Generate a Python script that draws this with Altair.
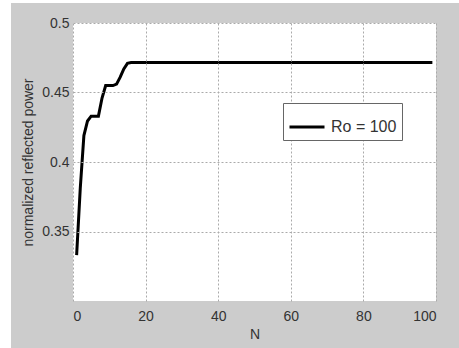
import altair as alt
import pandas as pd

n_values = list(range(1, 100))
head = [0.333, 0.381, 0.419, 0.4295, 0.433, 0.433, 0.433, 0.446, 0.455, 0.455,
        0.455, 0.456, 0.461, 0.467, 0.471]
power = head + [0.4715] * (len(n_values) - len(head))
series = ["Ro = 100"] * len(n_values)

x_ticks = [0, 20, 40, 60, 80, 100]
y_ticks = [0.35, 0.4, 0.45, 0.5]

df = pd.DataFrame({"N": n_values, "power": power, "series": series})

bg = alt.Chart(pd.DataFrame({"a": [0]})).mark_rect(color="#cccccc").encode(
    x=alt.value(-62), x2=alt.value(386), y=alt.value(-20), y2=alt.value(325)
)
fg = alt.Chart(pd.DataFrame({"a": [0]})).mark_rect(color="white").encode(
    x=alt.value(0), x2=alt.value(363), y=alt.value(0), y2=alt.value(278)
)

line = alt.Chart(df).mark_line(strokeWidth=3, clip=True).encode(
    x=alt.X("N:Q", scale=alt.Scale(domain=[0, 100], nice=False),
            axis=alt.Axis(values=x_ticks, title="N", grid=True, ticks=False,
                          labelPadding=8, titlePadding=4, domain=False, zindex=1)),
    y=alt.Y("power:Q", scale=alt.Scale(domain=[0.3, 0.5], nice=False, zero=False),
            axis=alt.Axis(values=y_ticks, title="normalized reflected power",
                          format=".2~f", grid=True, ticks=False, labelPadding=4,
                          titlePadding=6, domain=False, zindex=1)),
    color=alt.Color("series:N", scale=alt.Scale(range=["black"]),
                    legend=alt.Legend(title=None, orient="none", legendX=210, legendY=80,
                                      symbolType="stroke", symbolSize=1225,
                                      symbolStrokeWidth=3, labelFontSize=16,
                                      labelOffset=5, labelColor="#333333",
                                      fillColor="white", strokeColor="#666666",
                                      padding=5, labelFont="Liberation Sans", zindex=2)),
)

chart = alt.layer(bg, fg, line).properties(
    width=363, height=278,
    autosize=alt.AutoSizeParams(type="none"),
    padding={"left": 73, "top": 23, "right": 23, "bottom": 47},
).configure(background="white").configure_view(
    stroke="#444444", strokeWidth=1.5, fill=None
).configure_axis(
    gridColor="#aaaaaa", gridDash=[2, 2], gridWidth=1,
    labelFont="Liberation Sans", labelFontSize=14, labelColor="#333333",
    titleFont="Liberation Sans", titleFontSize=14, titleColor="#333333",
    titleFontWeight="normal",
)

chart.save("out.html", embed_options={"renderer": "svg", "actions": False})
